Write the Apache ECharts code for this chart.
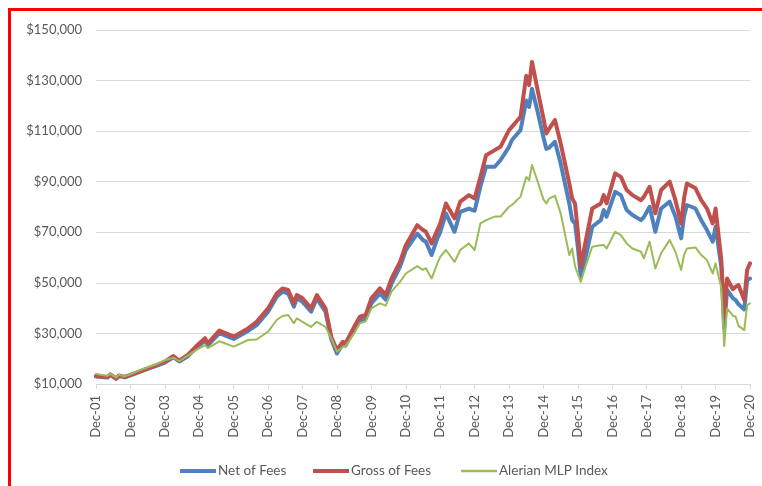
<!DOCTYPE html>
<html>
<head>
<meta charset="utf-8">
<script src="https://cdn.jsdelivr.net/npm/echarts@6/dist/echarts.min.js"></script>
<style>
  html, body { margin: 0; padding: 0; background: #ffffff; width: 762px; height: 486px; overflow: hidden; }
  #chart { position: absolute; left: 0; top: 0; width: 762px; height: 486px; }
  #frame { position: absolute; left: 8px; top: 8px; width: 800px; height: 600px; border: 3px solid #ff0000; box-sizing: border-box; pointer-events: none; }
</style>
</head>
<body>
<div id="chart"></div>
<div id="frame"></div>
<script>
// Observation dates (year-month)
const dates = [
  '2001-12','2002-04','2002-05','2002-07','2002-08','2002-10','2002-12','2003-03','2003-06','2003-09',
  '2003-12','2004-03','2004-05','2004-08','2004-11','2005-02','2005-03','2005-07','2005-12','2006-05',
  '2006-08','2006-12','2007-03','2007-05','2007-07','2007-09','2007-10','2007-12','2008-03','2008-05',
  '2008-08','2008-10','2008-12','2009-02','2009-03','2009-06','2009-08','2009-10','2009-12','2010-03',
  '2010-05','2010-07','2010-10','2010-12','2011-04','2011-06','2011-07','2011-09','2011-11','2011-12',
  '2012-02','2012-05','2012-07','2012-10','2012-12','2013-02','2013-04','2013-07','2013-09','2013-12',
  '2014-01','2014-04','2014-06','2014-07','2014-08','2014-10','2014-12','2015-01','2015-02','2015-04',
  '2015-06','2015-09','2015-10','2015-11','2015-12','2016-01','2016-03','2016-05','2016-08','2016-09',
  '2016-10','2017-01','2017-03','2017-05','2017-07','2017-10','2017-11','2018-01','2018-03','2018-05',
  '2018-08','2018-10','2018-12','2019-01','2019-02','2019-05','2019-07','2019-09','2019-11','2019-12',
  '2020-02','2020-03','2020-04','2020-06','2020-07','2020-08','2020-10','2020-11','2020-12'
];

const netOfFees = [
  13000,12600,13600,12000,13200,12600,13400,14700,16000,17200,
  18500,20600,18900,21000,24300,27200,25300,30100,27800,31000,
  33300,38600,44500,46500,45800,40600,43900,42500,38600,43800,
  38600,27800,22100,25700,25200,31400,35200,35800,41900,45800,
  43400,49600,56400,62900,69500,66900,66300,61000,67600,70000,
  77500,70200,78100,79400,78500,88000,95900,95900,98500,103800,
  106500,110400,122100,119600,126800,117500,107500,103000,103500,105800,
  97200,81400,74800,73500,64000,52400,61700,72200,74800,78800,
  76200,86000,84700,78800,76800,74800,76000,80100,70200,79400,
  82100,76200,67600,76200,80800,79400,74800,70900,66300,72200,
  56400,32000,47200,44000,43200,41500,39500,51100,51700
];

const grossOfFees = [
  13200,12800,13800,12200,13400,12800,13600,14900,16200,17500,
  18800,21100,19200,21500,25000,28100,26100,31100,28700,32000,
  34600,39900,45800,47800,47200,41900,45200,43900,39900,45200,
  39900,28700,23400,26700,26100,32600,36600,37300,43900,47800,
  45200,51700,58300,64900,72800,70900,70200,65600,70900,73500,
  81400,75500,82100,84700,83400,91900,100500,102500,103800,110400,
  111700,115700,131900,128200,137400,126000,115000,109100,111000,114400,
  105100,89300,83400,81400,70000,56400,68200,79400,81400,84700,
  81400,93300,91900,86700,84700,82700,84000,88000,77500,86700,
  90000,82700,73500,83400,89300,87400,82700,79400,73500,79400,
  59000,36600,51700,47500,48500,49100,43200,55100,57700
];

const alerianMLP = [
  14000,13200,14000,12600,13600,13000,13800,15300,16600,17800,
  19400,20400,19000,21200,23500,25400,24200,26900,24800,27400,
  27600,30700,35300,36900,37300,34000,36000,34600,32600,34600,
  32600,28100,22800,24700,25000,30000,34000,34800,39900,41900,
  41000,46500,50400,53700,56600,55100,55800,51700,57700,60300,
  63000,58300,63000,65600,63000,73500,74800,76200,76200,80100,
  80800,84100,91900,90600,96600,90000,83000,81400,83400,84400,
  77500,61000,63600,56500,53500,50400,57700,64300,64900,65000,
  63600,70200,68900,65600,63600,62300,59700,66300,55700,61700,
  66900,62300,55100,61000,63600,64000,61000,59000,53700,57700,
  48000,25000,39900,37000,36600,33000,31300,41200,41900
];

const xTickLabels = ['Dec-01','Dec-02','Dec-03','Dec-04','Dec-05','Dec-06','Dec-07','Dec-08','Dec-09','Dec-10',
  'Dec-11','Dec-12','Dec-13','Dec-14','Dec-15','Dec-16','Dec-17','Dec-18','Dec-19','Dec-20'];
const yTickLabels = ['$10,000','$30,000','$50,000','$70,000','$90,000','$110,000','$130,000','$150,000'];

const seriesNames = ['Net of Fees', 'Gross of Fees', 'Alerian MLP Index'];
const seriesColors = ['#4F81BD', '#C0504D', '#9BBB59'];

function monthIndex(d) {
  const [y, m] = d.split('-').map(Number);
  return (y - 2001) * 12 + (m - 12);
}
function pairs(vals) { return dates.map((d, i) => [monthIndex(d), vals[i]]); }

const chart = echarts.init(document.getElementById('chart'), null, { renderer: 'canvas' });
const font = 'Lato, "Open Sans", sans-serif';

function legendFor(i, left, h) {
  return {
    left: left, top: 459, itemWidth: 36, itemHeight: h, icon: 'rect',
    textStyle: { color: '#595959', fontFamily: font, fontSize: 13.5, padding: [0, 0, 0, -3] },
    data: [seriesNames[i]]
  };
}

chart.setOption({
  animation: false,
  backgroundColor: '#ffffff',
  grid: { left: 96, right: 12, top: 30, bottom: 102, containLabel: false },
  xAxis: {
    type: 'value', min: 0, max: 228, interval: 12,
    axisLine: { show: true, lineStyle: { color: '#d9d9d9', width: 1 } },
    axisTick: { show: true, length: 5, lineStyle: { color: '#d9d9d9' } },
    splitLine: { show: false },
    axisLabel: {
      rotate: 90, margin: 11, color: '#595959', fontFamily: font, fontSize: 13,
      formatter: v => xTickLabels[Math.round(v / 12)] || ''
    }
  },
  yAxis: {
    type: 'value', min: 10000, max: 150000, interval: 20000,
    axisLine: { show: false }, axisTick: { show: false },
    splitLine: { lineStyle: { color: '#d9d9d9', width: 1 } },
    axisLabel: {
      margin: 14, color: '#595959', fontFamily: font, fontSize: 13,
      formatter: v => yTickLabels[Math.round((v - 10000) / 20000)] || ''
    }
  },
  legend: [legendFor(0, 175, 4), legendFor(1, 308, 4), legendFor(2, 456, 2.5)],
  series: [
    { name: seriesNames[0], type: 'line', data: pairs(netOfFees), symbol: 'none', z: 2,
      lineStyle: { color: seriesColors[0], width: 4, join: 'round', cap: 'round' }, itemStyle: { color: seriesColors[0] } },
    { name: seriesNames[1], type: 'line', data: pairs(grossOfFees), symbol: 'none', z: 3,
      lineStyle: { color: seriesColors[1], width: 4, join: 'round', cap: 'round' }, itemStyle: { color: seriesColors[1] } },
    { name: seriesNames[2], type: 'line', data: pairs(alerianMLP), symbol: 'none', z: 4,
      lineStyle: { color: seriesColors[2], width: 2, join: 'round', cap: 'round' }, itemStyle: { color: seriesColors[2] } }
  ]
});
</script>
</body>
</html>
